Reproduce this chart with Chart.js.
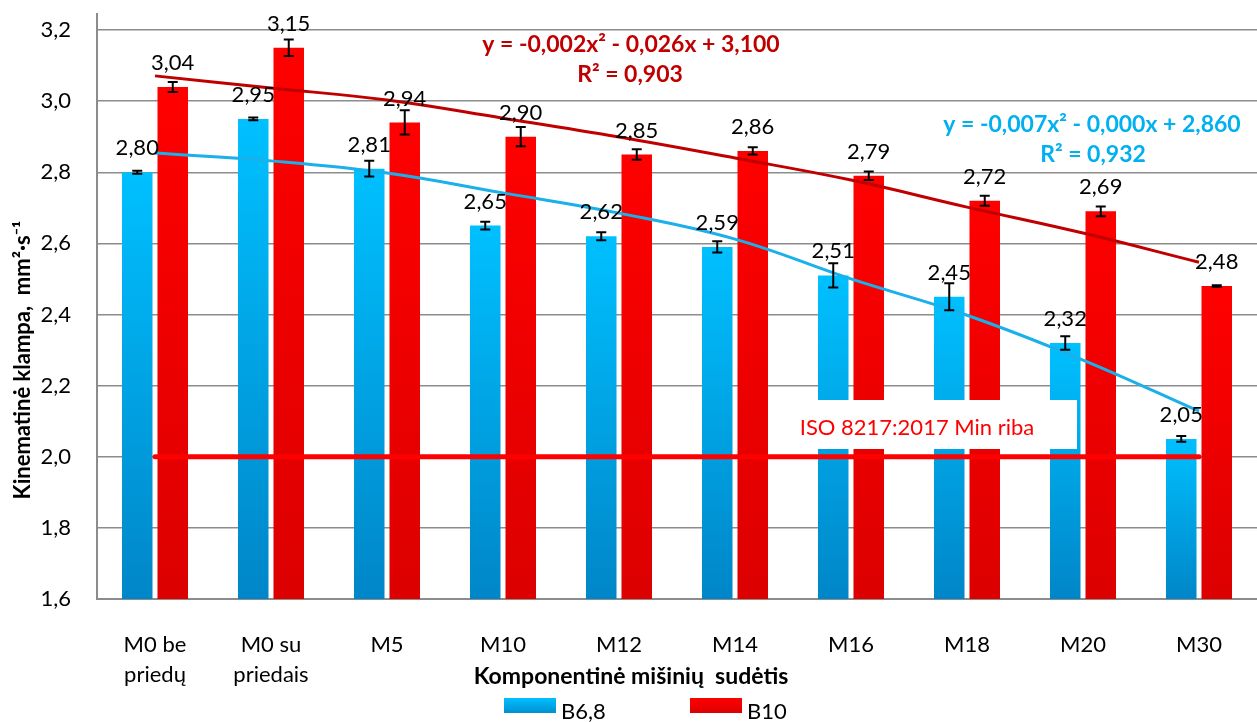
<!DOCTYPE html>
<html>
<head>
<meta charset="utf-8">
<script src="https://cdn.jsdelivr.net/npm/chart.js@4.4.0/dist/chart.umd.min.js"></script>
<style>
  html, body { margin: 0; padding: 0; background: #fff; }
  #wrap { width: 1257px; height: 722px; position: relative; }
</style>
</head>
<body>
<div id="wrap"><canvas id="myChart"></canvas></div>
<script>
const categories = [['M0 be', 'priedų'], ['M0 su', 'priedais'], 'M5', 'M10', 'M12', 'M14', 'M16', 'M18', 'M20', 'M30'];

const b68 = [2.80, 2.95, 2.81, 2.65, 2.62, 2.59, 2.51, 2.45, 2.32, 2.05];
const b10 = [3.04, 3.15, 2.94, 2.90, 2.85, 2.86, 2.79, 2.72, 2.69, 2.48];

const b68Err = [0.004, 0.004, 0.022, 0.011, 0.011, 0.016, 0.034, 0.038, 0.019, 0.008];
const b10Err = [0.014, 0.023, 0.034, 0.027, 0.015, 0.010, 0.012, 0.014, 0.014, 0.002];

// trend lines
const b68Trend = [2.854, 2.832, 2.798, 2.742, 2.685, 2.612, 2.500, 2.398, 2.272, 2.128];
const b10Trend = [3.071, 3.037, 3.003, 2.952, 2.899, 2.840, 2.778, 2.702, 2.629, 2.547];

const isoLimit = [2.0, 2.0, 2.0, 2.0, 2.0, 2.0, 2.0, 2.0, 2.0, 2.0];

const yTicks = [1.6, 1.8, 2.0, 2.2, 2.4, 2.6, 2.8, 3.0, 3.2];

const FONT = 'Lato';

function comma(v, d) {
  return v.toFixed(d).replace('.', ',');
}

function barFill(top, bottom) {
  return function (c) {
    const ch = c.chart;
    const area = ch.chartArea;
    if (!area || c.raw == null || !ch.scales.y) return top;
    const py = ch.scales.y.getPixelForValue(c.raw);
    const g = ch.ctx.createLinearGradient(0, py, 0, area.bottom);
    g.addColorStop(0, top);
    g.addColorStop(1, bottom);
    return g;
  };
}

const extras = {
  id: 'extras',
  afterDatasetsDraw(chart) {
    const ctx = chart.ctx;
    const y = chart.scales.y;
    ctx.save();

    // white box behind the ISO note
    ctx.fillStyle = '#ffffff';
    ctx.fillRect(772, 400, 305, 49);
    ctx.fillStyle = '#ff0000';
    ctx.font = '22px ' + FONT;
    ctx.textAlign = 'center';
    ctx.textBaseline = 'middle';
    ctx.fillText('ISO 8217:2017 Min riba', 917, 428);

    // error bars + value labels
    const sets = [[b68, b68Err], [b10, b10Err]];
    sets.forEach(function (s, di) {
      const meta = chart.getDatasetMeta(di);
      meta.data.forEach(function (el, i) {
        const v = s[0][i], e = s[1][i];
        const t = y.getPixelForValue(v + e);
        const b = y.getPixelForValue(v - e);
        ctx.strokeStyle = '#000';
        ctx.lineWidth = 2;
        ctx.beginPath();
        ctx.moveTo(el.x, t); ctx.lineTo(el.x, b);
        ctx.moveTo(el.x - 5, t); ctx.lineTo(el.x + 5, t);
        ctx.moveTo(el.x - 5, b); ctx.lineTo(el.x + 5, b);
        ctx.stroke();

        ctx.fillStyle = '#000';
        ctx.font = '22px ' + FONT;
        ctx.fillText(comma(v, 2), el.x, el.y - 24);
      });
    });

    // trend equations
    ctx.font = 'bold 23px ' + FONT;
    ctx.fillStyle = '#c00000';
    ctx.fillText('y = -0,002x² - 0,026x + 3,100', 631, 45);
    ctx.fillText('R² = 0,903', 630, 75);
    ctx.fillStyle = '#00b0f0';
    ctx.fillText('y = -0,007x² - 0,000x + 2,860', 1092, 125);
    ctx.fillText('R² = 0,932', 1093, 155);
    ctx.restore();
  },
  afterDraw(chart) {
    const ctx = chart.ctx;
    const a = chart.chartArea;
    ctx.save();

    // axis line runs a bit above the top tick
    ctx.strokeStyle = '#8c8c8c';
    ctx.lineWidth = 2;
    ctx.beginPath();
    ctx.moveTo(a.left, 13);
    ctx.lineTo(a.left, a.top);
    ctx.stroke();

    // axis titles
    ctx.fillStyle = '#000';
    ctx.font = 'bold 23px ' + FONT;
    ctx.textAlign = 'center';
    ctx.textBaseline = 'middle';
    ctx.fillText('Komponentinė mišinių  sudėtis', 631, 677);

    ctx.save();
    ctx.translate(23, 360);
    ctx.rotate(-Math.PI / 2);
    ctx.font = 'bold 22px ' + FONT;
    ctx.fillText('Kinematinė klampa,  mm²·s⁻¹', 0, 0);
    ctx.restore();

    // legend
    let g = ctx.createLinearGradient(0, 698, 0, 713);
    g.addColorStop(0, '#00bfff');
    g.addColorStop(1, '#0090d0');
    ctx.fillStyle = g;
    ctx.fillRect(504, 698, 52, 15);
    g = ctx.createLinearGradient(0, 698, 0, 713);
    g.addColorStop(0, '#ff0000');
    g.addColorStop(1, '#dd0000');
    ctx.fillStyle = g;
    ctx.fillRect(690, 698, 52, 15);

    ctx.fillStyle = '#000';
    ctx.font = '22px ' + FONT;
    ctx.textAlign = 'left';
    ctx.textBaseline = 'alphabetic';
    ctx.fillText('B6,8', 561, 719);
    ctx.fillText('B10', 747, 719);
    ctx.restore();
  }
};

const ctx = document.getElementById('myChart');

new Chart(ctx, {
  type: 'bar',
  data: {
    labels: categories,
    datasets: [
      {
        label: 'B6,8',
        data: b68,
        backgroundColor: barFill('#00c0ff', '#0086c8'),
        barPercentage: 0.86,
        categoryPercentage: 0.612,
        order: 2
      },
      {
        label: 'B10',
        data: b10,
        backgroundColor: barFill('#ff0000', '#dc0000'),
        barPercentage: 0.86,
        categoryPercentage: 0.612,
        order: 2
      },
      {
        type: 'line',
        label: 'B6,8 trend',
        data: b68Trend,
        borderColor: '#1ab0ea',
        borderWidth: 3,
        pointRadius: 0,
        tension: 0.4,
        fill: false,
        order: 1
      },
      {
        type: 'line',
        label: 'B10 trend',
        data: b10Trend,
        borderColor: '#c00000',
        borderWidth: 3,
        pointRadius: 0,
        tension: 0.4,
        fill: false,
        order: 1
      },
      {
        type: 'line',
        label: 'ISO 8217:2017 Min riba',
        data: isoLimit,
        borderColor: '#ff0000',
        borderWidth: 5,
        borderCapStyle: 'round',
        pointRadius: 0,
        fill: false,
        order: 1
      }
    ]
  },
  plugins: [extras],
  options: {
    responsive: true,
    maintainAspectRatio: false,
    animation: false,
    layout: { padding: { top: 30, right: 0, bottom: 0, left: 0 } },
    plugins: {
      legend: { display: false },
      tooltip: { enabled: false }
    },
    scales: {
      x: {
        grid: { display: false },
        border: { display: true, color: '#8c8c8c', width: 2 },
        ticks: {
          color: '#000',
          padding: 23,
          maxRotation: 0,
          font: { family: FONT, size: 22, lineHeight: 1.35 }
        },
        afterFit: function (scale) { scale.height = 123; }
      },
      y: {
        min: 1.6,
        max: 3.2,
        afterBuildTicks: function (scale) {
          scale.ticks = yTicks.map(function (v) { return { value: v }; });
        },
        grid: { color: '#8c8c8c', lineWidth: 1.5, drawTicks: false },
        border: { display: true, color: '#8c8c8c', width: 2 },
        ticks: {
          color: '#000',
          padding: 26,
          font: { family: FONT, size: 22 },
          callback: function (v) { return comma(v, 1); }
        },
        afterFit: function (scale) {
          scale.width = 97;
          scale.paddingTop = 13;
          scale.paddingBottom = 13;
        }
      }
    }
  }
});
</script>
</body>
</html>
